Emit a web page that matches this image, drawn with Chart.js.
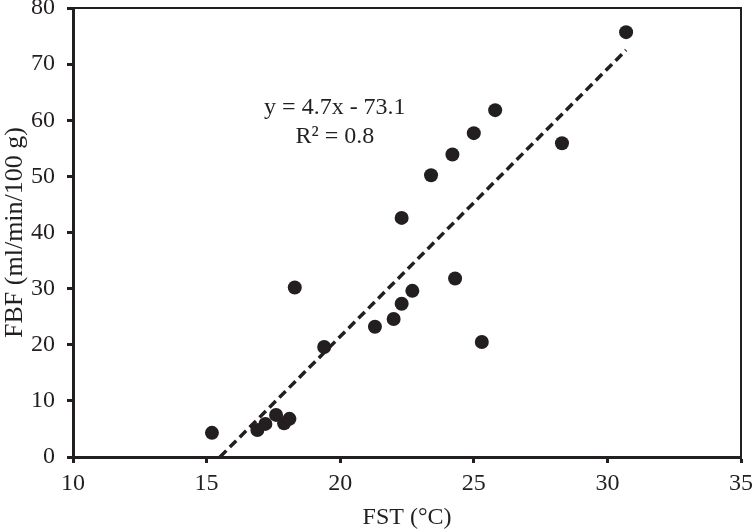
<!DOCTYPE html>
<html>
<head>
<meta charset="utf-8">
<script src="https://cdn.jsdelivr.net/npm/chart.js@4/dist/chart.umd.min.js"></script>
<style>
html,body{margin:0;padding:0;background:#fff;}
#wrap{width:752px;height:532px;position:relative;}
</style>
</head>
<body>
<div id="wrap"><canvas id="c" width="752" height="532"></canvas></div>
<script>
const fstValues = [15.2, 16.9, 17.2, 17.6, 17.9, 18.1, 18.3, 19.4, 21.3, 22.0, 22.3, 22.3, 22.7, 23.4, 24.2, 25.0, 25.8, 24.3, 25.3, 28.3, 30.7];
const fbfValues = [4.3, 4.8, 5.9, 7.5, 6.0, 6.8, 30.2, 19.6, 23.2, 24.6, 27.3, 42.6, 29.6, 50.2, 53.9, 57.7, 61.8, 31.8, 20.5, 55.9, 75.7];
const trendX = [15.5, 30.7];
const trendY = [0, 72.5];
const xTicks = [10, 15, 20, 25, 30, 35];
const yTicks = [0, 10, 20, 30, 40, 50, 60, 70, 80];
const equationLines = ["y = 4.7x - 73.1", "R\u00B2 = 0.8"];
const xTitle = "FST (\u00B0C)";
const yTitle = "FBF (ml/min/100 g)";

const INK = '#231f20';
const FONT = "'Liberation Serif', 'Times New Roman', serif";

const points = fstValues.map((x, i) => ({x: x, y: fbfValues[i]}));
const trend = trendX.map((x, i) => ({x: x, y: trendY[i]}));

const framePlugin = {
  id: 'frame',
  afterDraw(chart) {
    const {ctx, chartArea: a} = chart;
    ctx.save();
    ctx.strokeStyle = INK;
    ctx.lineWidth = 2;
    ctx.beginPath();
    ctx.moveTo(a.left, a.top);
    ctx.lineTo(a.right, a.top);
    ctx.lineTo(a.right, a.bottom);
    ctx.stroke();
    const xs = chart.scales.x, ys = chart.scales.y;
    ctx.fillStyle = INK;
    ctx.font = "24px " + FONT;
    ctx.textAlign = 'center';
    ctx.textBaseline = 'middle';
    ctx.fillText(equationLines[0], xs.getPixelForValue(19.8), ys.getPixelForValue(62.3));
    ctx.fillText(equationLines[1], xs.getPixelForValue(19.8), ys.getPixelForValue(57.1));
    ctx.restore();
  }
};

new Chart(document.getElementById('c'), {
  type: 'scatter',
  data: {
    datasets: [
      {
        label: 'trend',
        type: 'line',
        data: trend,
        borderColor: INK,
        borderWidth: 3.5,
        borderDash: [9, 5],
        pointRadius: 0,
        fill: false,
        order: 2
      },
      {
        label: 'FBF',
        data: points,
        backgroundColor: INK,
        borderColor: INK,
        pointRadius: 7,
        borderWidth: 0,
        order: 1
      }
    ]
  },
  options: {
    responsive: false,
    animation: false,
    devicePixelRatio: 1,
    layout: {padding: {left: 0, right: 11, top: 8, bottom: 0}},
    plugins: {legend: {display: false}, tooltip: {enabled: false}},
    scales: {
      x: {
        type: 'linear',
        min: 10, max: 35,
        afterBuildTicks(s) { s.ticks = xTicks.map(v => ({value: v})); },
        afterFit(s) { s.height = 75; s.paddingLeft = 0; s.paddingRight = 0; },
        border: {display: true, color: INK, width: 3},
        grid: {display: true, drawOnChartArea: false, drawTicks: true, tickLength: 6, tickWidth: 3, tickColor: INK},
        ticks: {color: INK, font: {family: FONT, size: 24}, padding: 6, maxRotation: 0},
        title: {display: true, text: xTitle, color: INK, font: {family: FONT, size: 24}, padding: {top: 2, bottom: 0}}
      },
      y: {
        type: 'linear',
        min: 0, max: 80,
        afterBuildTicks(s) { s.ticks = yTicks.map(v => ({value: v})); },
        afterFit(s) { s.width = 73; s.paddingTop = 0; s.paddingBottom = 0; },
        border: {display: true, color: INK, width: 3},
        grid: {display: true, drawOnChartArea: false, drawTicks: true, tickLength: 6, tickWidth: 3, tickColor: INK},
        ticks: {color: INK, font: {family: FONT, size: 24}, padding: 12},
        title: {display: true, text: yTitle, color: INK, font: {family: FONT, size: 26}, padding: {top: 0, bottom: 0}}
      }
    }
  },
  plugins: [framePlugin]
});
</script>
</body>
</html>
